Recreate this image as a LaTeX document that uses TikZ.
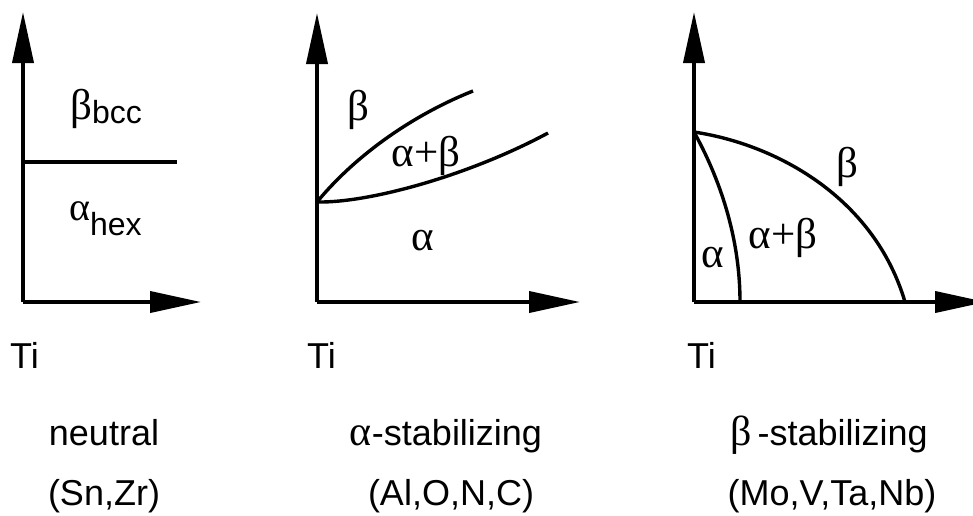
\documentclass[tikz,border=0pt]{standalone}
\usepackage{fontspec}
\setmainfont{Liberation Sans}
\newfontfamily\grk{Liberation Serif}
\usetikzlibrary{arrows.meta}
\begin{document}
\begin{tikzpicture}[x=1pt,y=-1pt,line join=round,
	axis/.style={line width=3.8pt,-{Triangle[length=51pt,width=21pt]}},
	bound/.style={line width=3.4pt},
	txt/.style={font=\fontsize{36}{40}\selectfont,inner sep=0pt,anchor=base},
	phase/.style={font=\grk\fontsize{43}{46}\selectfont,inner sep=0pt,anchor=base}]
	\useasboundingbox (0,0) rectangle (973,515);
	% neutral
	\coordinate (o1) at (23,302);
	\coordinate (y1) at (23,12);
	\coordinate (x1) at (201,302);
	\coordinate (b1) at (23,162);
	\coordinate (e1) at (177,162);
	\draw[axis] (o1) -- (y1);
	\draw[axis] (o1) -- (x1);
	\draw[bound] (b1) -- (e1);
	\node[phase,anchor=base west] (bcc) at (70,119) {β\raisebox{-4pt}{\rmfamily\fontsize{32}{34}\selectfont bcc}};
	\node[phase,anchor=base west,font=\grk\fontsize{40}{44}\selectfont] (hex) at (69,220) {α\raisebox{-15pt}{\rmfamily\fontsize{32}{34}\selectfont hex}};
	\node[txt,anchor=base west] (ti1) at (10,368) {Ti};
	\node[txt] (neu) at (104,445) {neutral};
	\node[txt] (neuel) at (104,505) {(Sn,Zr)};
	% alpha stabilizing
	\coordinate (o2) at (317,302);
	\coordinate (y2) at (317,13);
	\coordinate (x2) at (580,302);
	\coordinate (p2) at (317,202);
	\coordinate (u2) at (473,91);
	\coordinate (l2) at (548,133);
	\draw[axis] (o2) -- (y2);
	\draw[axis] (o2) -- (x2);
	\draw[bound] (p2) .. controls (360,150) and (420,112) .. (u2);
	\draw[bound] (p2) .. controls (370,203) and (470,175) .. (l2);
	\node[phase] (b2) at (358,120) {β};
	\node[phase] (ab2) at (426,166) {α+β};
	\node[phase] (a2) at (423,250) {α};
	\node[txt,anchor=base west] (ti2) at (307,368) {Ti};
	\node[txt] (astab) at (446,445) {{\grk\fontsize{42}{44}\selectfont α}-stabilizing};
	\node[txt] (astabel) at (451,505) {(Al,O,N,C)};
	% beta stabilizing
	\coordinate (o3) at (694,302);
	\coordinate (y3) at (694,12);
	\coordinate (x3) at (986,302);
	\coordinate (p3) at (694,132);
	\coordinate (i3) at (740,302);
	\coordinate (f3) at (905,302);
	\draw[axis] (o3) -- (y3);
	\draw[axis] (o3) -- (x3);
	\draw[bound] (p3) .. controls (715,170) and (740,230) .. (i3);
	\draw[bound] (p3) .. controls (780,145) and (875,200) .. (f3);
	\node[phase] (b3) at (847,177) {β};
	\node[phase] (ab3) at (783,248) {α+β};
	\node[phase] (a3) at (713,267) {α};
	\node[txt,anchor=base west] (ti3) at (687,368) {Ti};
	\node[txt] (bstab) at (829,445) {{\grk\fontsize{42}{44}\selectfont β}\,-stabilizing};
	\node[txt] (bstabel) at (832,505) {(Mo,V,Ta,Nb)};
\end{tikzpicture}
\end{document}
